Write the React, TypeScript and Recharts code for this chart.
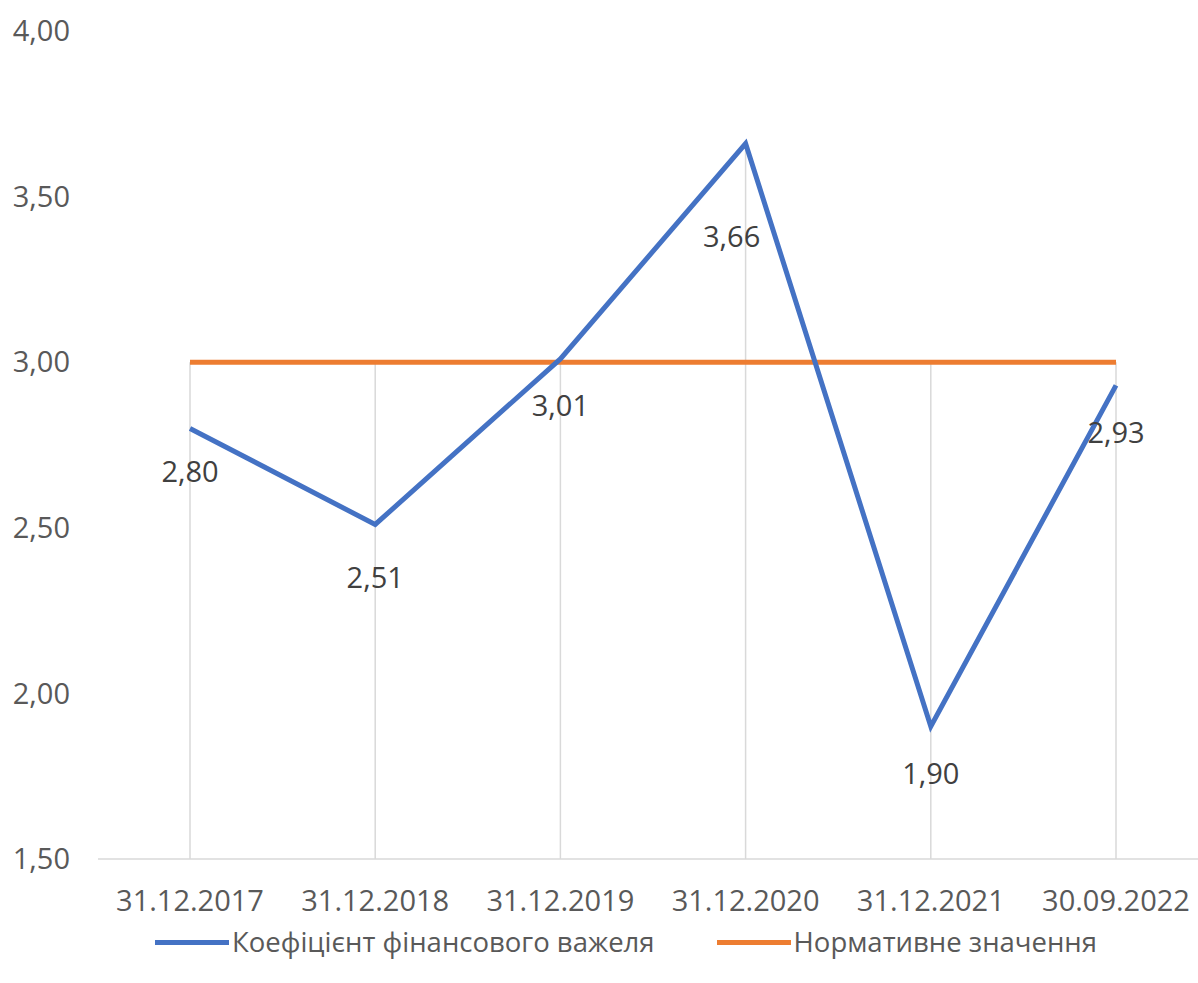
import React from 'react';
import { LineChart, Line, XAxis, YAxis, ReferenceLine, LabelList, Legend } from 'recharts';

const dates = ['31.12.2017', '31.12.2018', '31.12.2019', '31.12.2020', '31.12.2021', '30.09.2022'];
const leverage = [2.8, 2.51, 3.01, 3.66, 1.9, 2.93];
const normative = [3, 3, 3, 3, 3, 3];
const yTicks = [1.5, 2, 2.5, 3, 3.5, 4];

const BLUE = '#4472C4';
const ORANGE = '#ED7D31';
const FONT = '"Open Sans", "Noto Sans", sans-serif';

// label nudges below each point (Excel had them moved by hand a bit)
const labelDy = [42, 52, 46, 92, 46, 46];
const labelDx = [0, 0, 0, -14, 0, 0];

const data = dates.map((d, i) => ({ date: d, lev: leverage[i], norm: normative[i] }));

const fmt = (v: number) => v.toFixed(2).replace('.', ',');

function ValueLabel(props: any) {
  const { x, y, value, index } = props;
  return (
    <text
      x={x + (labelDx[index] ?? 0)}
      y={y + (labelDy[index] ?? 45)}
      textAnchor="middle"
      dominantBaseline="central"
      fill="#404040"
      fontSize={29}
      fontFamily={FONT}
    >
      {fmt(value)}
    </text>
  );
}

function LegendRow() {
  const item = (color: string, text: string) => (
    <div style={{ display: 'flex', alignItems: 'center' }}>
      <div style={{ width: 74, height: 5, background: color, marginRight: 3 }} />
      <span>{text}</span>
    </div>
  );
  return (
    <div style={{ display: 'flex', gap: 62, fontFamily: FONT, fontSize: 27.5, color: '#595959', whiteSpace: 'nowrap', lineHeight: '36px' }}>
      {item(BLUE, 'Коефіцієнт фінансового важеля')}
      {item(ORANGE, 'Нормативне значення')}
    </div>
  );
}

export default function App() {
  return (
    <div style={{ position: 'absolute', left: 0, top: 0, width: 1198, height: 983, overflow: 'hidden', background: '#fff' }}>
      <LineChart width={1210} height={983} data={data} margin={{ top: 31, right: 2, left: 0, bottom: 58 }}>
        <XAxis
          dataKey="date"
          height={30}
          padding={{ left: 92, right: 92 }}
          axisLine={{ stroke: '#D9D9D9', strokeWidth: 1.5 }}
          tickLine={false}
          tickSize={0}
          tickMargin={31}
          tick={{ fill: '#595959', fontSize: 29, fontFamily: FONT }}
          interval={0}
        />
        <YAxis
          domain={[1.5, 4]}
          ticks={yTicks}
          width={98}
          axisLine={false}
          tickLine={false}
          tickSize={0}
          tickMargin={28}
          tickFormatter={fmt}
          tick={{ fill: '#595959', fontSize: 29, fontFamily: FONT }}
        />
        {data.map((d) => (
          <ReferenceLine
            key={d.date}
            segment={[
              { x: d.date, y: Math.max(d.lev, d.norm) },
              { x: d.date, y: 1.5 },
            ]}
            stroke="#D9D9D9"
            strokeWidth={1.5}
          />
        ))}
        <Line dataKey="norm" stroke={ORANGE} strokeWidth={5} dot={false} isAnimationActive={false} />
        <Line dataKey="lev" stroke={BLUE} strokeWidth={5} dot={false} isAnimationActive={false}>
          <LabelList dataKey="lev" content={<ValueLabel />} />
        </Line>
        <Legend
          content={<LegendRow />}
          wrapperStyle={{ position: 'absolute', left: 155, top: 924, width: 'auto' }}
        />
      </LineChart>
    </div>
  );
}
